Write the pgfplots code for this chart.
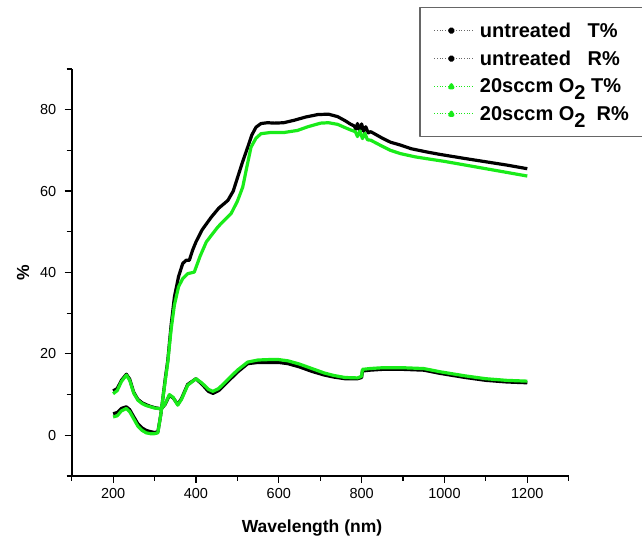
\documentclass[border=0pt]{standalone}
\usepackage{fontspec}
\setmainfont{Liberation Sans}
\usepackage{pgfplots}
\usepackage{pgfplotstable}
\pgfplotsset{compat=1.18}
\definecolor{ogreen}{RGB}{25,235,25}

% untreated, transmittance
\pgfplotstableread{
x y
200 5.3
210 5.6
220 6.6
232 7.0
240 6.3
250 4.5
260 2.8
270 1.8
280 1.2
290 0.9
300 0.7
308 0.8
315 5.0
320 9.0
326 14.0
332 18.4
340 27.0
348 34.0
358 39.0
368 42.2
376 43.0
384 43.0
392 45.5
400 47.5
415 50.5
437 53.6
455 55.8
477 57.7
490 60.0
501 63.5
512 67.0
525 70.8
535 73.8
545 75.7
557 76.6
573 76.8
590 76.7
612 76.8
637 77.4
665 78.2
694 78.8
720 78.9
742 78.3
760 77.3
774 76.4
782 76.0
786 75.2
790 76.6
795 74.9
800 76.5
805 74.7
810 75.8
816 74.3
822 74.6
850 73.0
870 72.0
894 71.3
920 70.4
958 69.6
990 69.0
1050 68.0
1100 67.2
1150 66.4
1200 65.5
}\untreatedT

% untreated, reflectance
\pgfplotstableread{
x y
200 10.9
210 11.5
220 13.5
232 15.0
240 13.8
250 10.5
260 8.8
270 8.0
280 7.5
290 7.1
300 6.8
316 6.5
325 7.5
336 9.8
345 9.2
356 7.6
365 9.0
380 12.5
400 13.9
415 12.5
430 10.8
441 10.3
455 11.0
475 13.0
500 15.5
525 17.6
550 17.9
575 17.9
600 17.9
622 17.6
650 16.8
680 15.7
710 14.8
733 14.3
760 13.9
790 13.9
800 14.2
802 15.8
820 16.0
850 16.2
900 16.2
950 16.0
990 15.2
1050 14.2
1100 13.5
1150 13.1
1200 12.9
}\untreatedR

% 20 sccm O2, transmittance
\pgfplotstableread{
x y
200 4.5
210 4.8
220 6.0
232 6.6
240 5.8
250 4.0
260 2.2
270 1.2
280 0.6
290 0.4
300 0.4
308 0.6
315 5.0
320 9.0
326 13.5
332 18.0
340 26.0
348 32.0
358 36.5
368 38.5
380 39.7
396 40.1
410 44.0
425 47.5
440 49.5
453 51.2
470 53.0
485 54.5
500 57.5
513 61.0
523 66.0
533 70.8
545 73.0
557 74.1
580 74.4
613 74.4
645 74.9
670 75.8
701 76.7
720 76.8
742 76.4
760 75.6
774 75.0
785 74.6
790 73.4
796 74.8
802 72.9
808 74.2
814 72.6
822 72.5
850 71.0
870 70.0
894 69.2
930 68.4
974 67.7
1000 67.3
1050 66.4
1100 65.5
1150 64.6
1200 63.7
}\oxygenT

% 20 sccm O2, reflectance
\pgfplotstableread{
x y
200 10.2
210 11.0
220 13.2
232 14.8
240 13.5
250 10.3
260 8.6
270 7.8
280 7.3
290 7.0
300 6.7
316 6.5
325 7.6
336 10.0
345 9.3
356 7.4
365 8.8
380 12.3
400 13.9
415 12.8
430 11.3
441 10.8
455 11.5
475 13.5
500 16.0
525 18.0
550 18.5
575 18.6
600 18.6
622 18.3
650 17.5
680 16.4
710 15.3
733 14.7
760 14.2
790 14.1
800 14.5
802 16.2
820 16.4
850 16.6
900 16.6
950 16.4
990 15.6
1050 14.6
1100 13.9
1150 13.5
1200 13.3
}\oxygenR

\begin{document}
\begin{tikzpicture}[x=1pt,y=1pt]
\path[use as bounding box] (0,0) rectangle (642,537);
\begin{axis}[
  at={(71.7pt,61pt)}, anchor=south west,
  scale only axis, width=497pt, height=407pt,
  xmin=100, xmax=1300, ymin=-10, ymax=90,
  axis x line*=bottom, axis y line*=left,
  axis line style={line width=1.6pt},
  tick align=outside,
  major tick length=7pt, minor tick length=5pt,
  every tick/.style={black, line width=1.2pt},
  xtick={200,400,...,1200}, minor xtick={100,300,...,1300},
  ytick={0,20,...,80}, minor ytick={-10,10,...,90},
  tick label style={font=\fontsize{14.5}{17}\selectfont},
  xticklabel style={yshift=-2pt},
  yticklabel style={xshift=-5pt},
  /pgf/number format/assume math mode=true,
  /pgf/number format/1000 sep={},
  xlabel={Wavelength (nm)}, ylabel={\%},
  label style={font=\fontsize{17.5}{20}\selectfont\bfseries},
  xlabel style={at={(axis description cs:0.4835,-0.14)}, anchor=base},
  ylabel style={at={(axis description cs:-0.098,0.5)}, anchor=center, rotate=0},
  legend cell align=left,
  legend style={at={(axis description cs:0.6996,1.1523)}, anchor=north west,
    draw=black!60, line width=1.2pt,
    font=\fontsize{20}{24}\selectfont\bfseries,
    inner xsep=14pt, inner ysep=13pt, row sep=8pt,
    nodes={inner sep=2pt}},
  line join=round,
]
\addplot[black, line width=3.2pt,
  legend image code/.code={\draw[black!60, dotted, line width=0.7pt] (0pt,0pt) -- (38pt,0pt);
    \fill[black] (17pt,0pt) circle (1.8pt); \path (42pt,0pt);}]
  table[x=x,y=y] {\untreatedT};
\addlegendentry{untreated\ \ \ T\%\hspace*{40pt}}
\addplot[black, line width=3.2pt,
  legend image code/.code={\draw[black!60, dotted, line width=0.7pt] (0pt,0pt) -- (38pt,0pt);
    \fill[black] (17pt,0pt) circle (1.8pt); \path (42pt,0pt);}]
  table[x=x,y=y] {\untreatedR};
\addlegendentry{untreated\ \ \ R\%}
\addplot[ogreen, line width=3.2pt,
  legend image code/.code={\draw[ogreen, dotted, line width=0.7pt] (0pt,0pt) -- (38pt,0pt);
    \fill[ogreen] (15.5pt,-1.4pt) -- (18.5pt,-1.4pt) -- (17pt,1.6pt) -- cycle; \path (42pt,0pt);}]
  table[x=x,y=y] {\oxygenT};
\addlegendentry{20sccm O\raisebox{-7pt}{2} T\%}
\addplot[ogreen, line width=3.2pt,
  legend image code/.code={\draw[ogreen, dotted, line width=0.7pt] (0pt,0pt) -- (38pt,0pt);
    \fill[ogreen] (15.5pt,-1.4pt) -- (18.5pt,-1.4pt) -- (17pt,1.6pt) -- cycle; \path (42pt,0pt);}]
  table[x=x,y=y] {\oxygenR};
\addlegendentry{20sccm O\raisebox{-7pt}{2}\ \ R\%}
\end{axis}
\end{tikzpicture}
\end{document}
